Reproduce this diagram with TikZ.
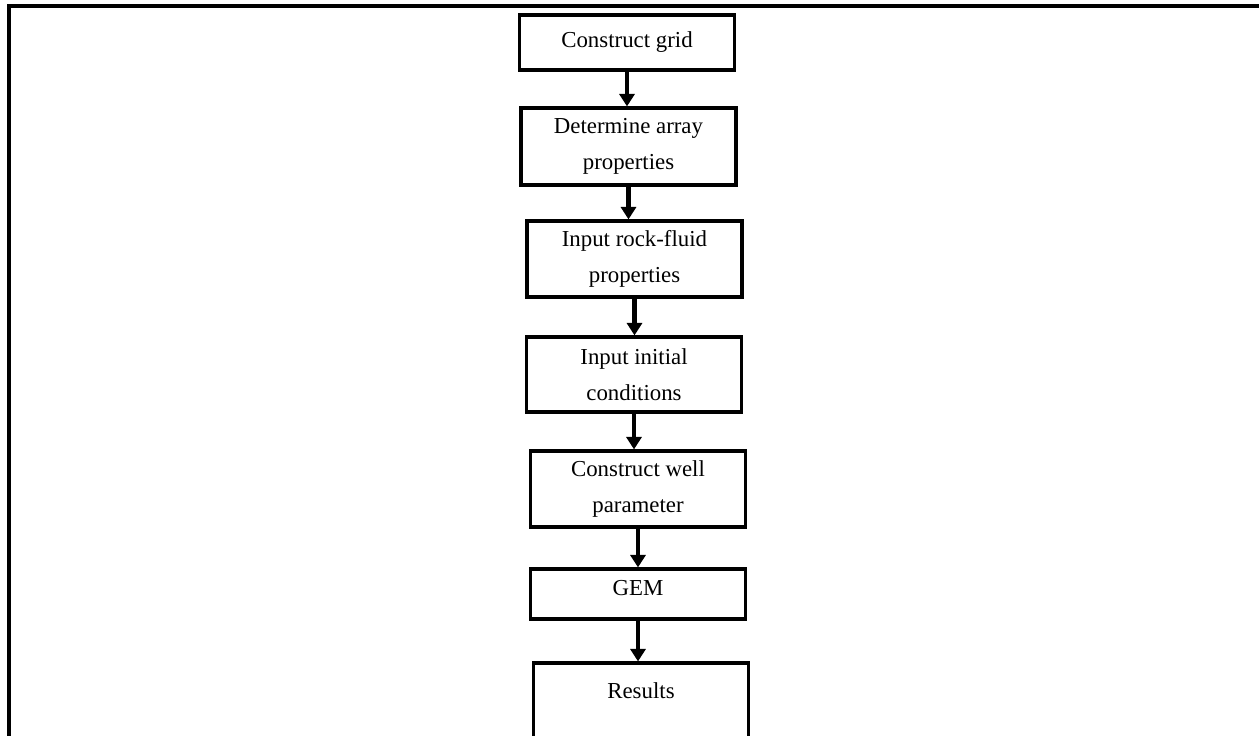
\documentclass[tikz,border=0pt]{standalone}
\usepackage{fontspec}
\setmainfont{Liberation Serif}
\usepackage{tikz}
\usetikzlibrary{arrows.meta,positioning}
\tikzset{
  flow/.style={-{Triangle[length=2.5mm,width=3.0mm]},black,line width=2.3pt},
  stepbox/.style={draw=black,line width=1.8pt,fill=white,minimum width=4.3cm,
                  inner sep=1mm,align=center,font=\fontsize{13}{20.5}\selectfont},
  frame/.style={black,line width=2.3pt},
}

\begin{document}
\begin{tikzpicture}[x=0.02cm,y=-0.02cm]
    \useasboundingbox (0,0) rectangle (1259,736);
    % page frame, open to the right and bottom
    \draw[frame] (9,740) -- (9,6) -- (1262,6);

    % the simulation steps
    \node[stepbox,minimum height=1.1cm] (grid) at (627,42.5) {Construct grid};
    \node[stepbox,minimum height=1.54cm] (array) at (628.5,146.5) {Determine array\\properties};
    \node[stepbox,minimum height=1.52cm] (rock) at (634.5,259) {Input rock-fluid\\properties};
    \node[stepbox,minimum height=1.5cm] (init) at (634,374.5) {Input initial\\conditions};
    \node[stepbox,minimum height=1.52cm] (well) at (638,489) {Construct well\\parameter};
    \node[stepbox,minimum height=1.0cm,text depth=0.24cm] (gem) at (638,594) {GEM};
    \node[stepbox,minimum height=1.64cm,text height=0.32cm,text depth=0.56cm] (res) at (641,704) {Results};

    \draw[flow] (grid.south) -- (grid.south |- array.north);
    \draw[flow] (array.south) -- (array.south |- rock.north);
    \draw[flow] (rock.south) -- (rock.south |- init.north);
    \draw[flow] (init.south) -- (init.south |- well.north);
    \draw[flow] (well.south) -- (well.south |- gem.north);
    \draw[flow] (gem.south) -- (gem.south |- res.north);
\end{tikzpicture}
\end{document}
